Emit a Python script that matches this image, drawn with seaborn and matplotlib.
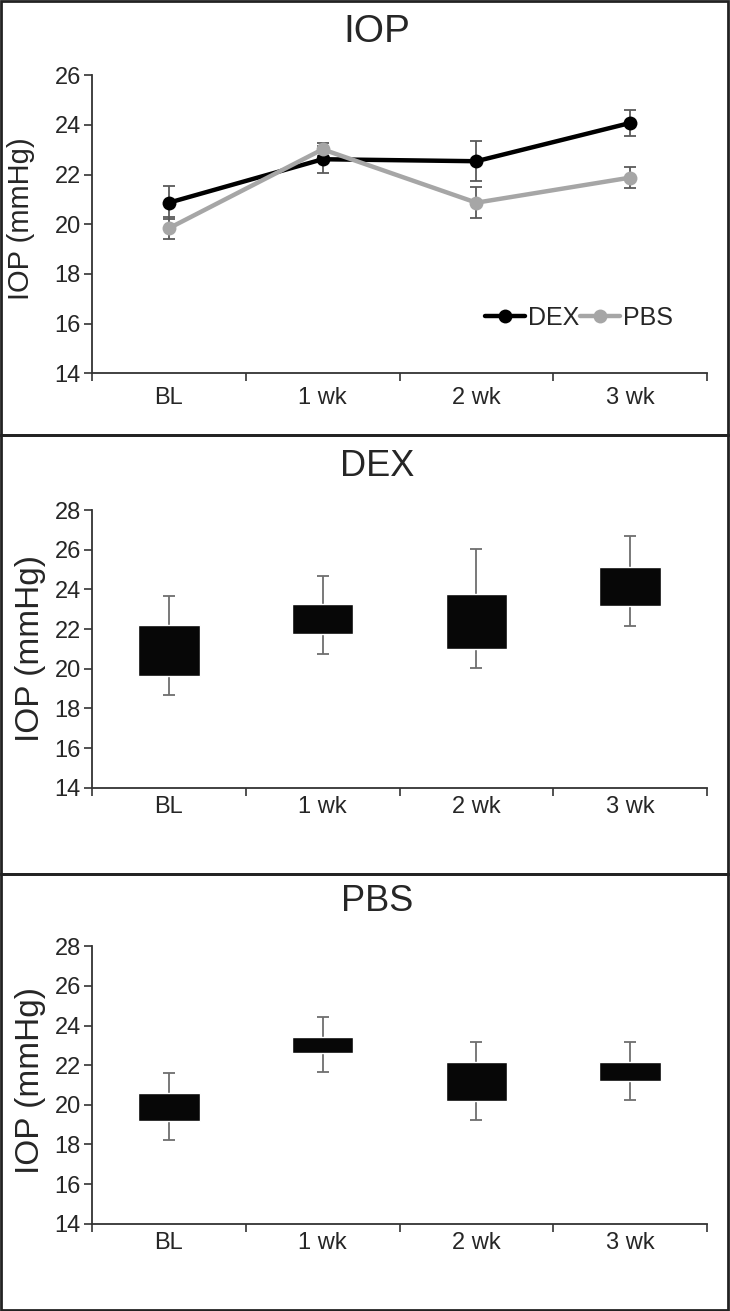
import numpy as np
import pandas as pd
import matplotlib
matplotlib.use("Agg")
import matplotlib.pyplot as plt
import seaborn as sns
from matplotlib.patches import Rectangle

weeks = ["BL", "1 wk", "2 wk", "3 wk"]

# top panel: mean +/- error
dex_mean = [20.87, 22.62, 22.54, 24.08]
dex_err = [0.67, 0.55, 0.80, 0.52]
pbs_mean = [19.84, 23.02, 20.87, 21.88]
pbs_err = [0.44, 0.25, 0.63, 0.43]

# floating boxes + whiskers
dex_box_low = [19.65, 21.75, 20.99, 23.16]
dex_box_high = [22.20, 23.28, 23.78, 25.11]
dex_whisk_low = [18.67, 20.76, 20.02, 22.17]
dex_whisk_high = [23.68, 24.69, 26.02, 26.69]

pbs_box_low = [19.20, 22.64, 20.21, 21.20]
pbs_box_high = [20.58, 23.43, 22.16, 22.16]
pbs_whisk_low = [18.22, 21.66, 19.23, 20.24]
pbs_whisk_high = [21.59, 24.42, 23.15, 23.15]

sns.set_style("ticks")
plt.rcParams['font.family'] = ['Liberation Sans', 'DejaVu Sans']

W, H = 730, 1311
fig = plt.figure(figsize=(W / 100, H / 100), dpi=100)
pos = np.arange(len(weeks))


def frac_axes(top_px, bottom_px, left_px=92, right_px=707):
    return fig.add_axes([left_px / W, 1 - bottom_px / H,
                         (right_px - left_px) / W, (bottom_px - top_px) / H])


def style_axis(ax, ymax, xpad, ylab_size, ylab_x, ylab_y):
    ax.set_xlim(-0.5, 3.5)
    ax.set_ylim(14, ymax)
    ax.set_yticks(range(14, ymax + 1, 2))
    ax.set_xticks(np.arange(-0.5, 4, 1))
    ax.set_xticklabels([])
    ax.set_xticks(pos, weeks, minor=True)
    ax.tick_params(axis='x', which='minor', length=0, pad=xpad, labelsize=17)
    ax.tick_params(axis='x', which='major', length=6, width=1.2, color='#333333')
    ax.tick_params(axis='y', length=6, width=1.2, color='#333333', labelsize=17, pad=2)
    sns.despine(ax=ax)
    for s in ['left', 'bottom']:
        ax.spines[s].set_color('#333333')
        ax.spines[s].set_linewidth(1.3)
    ax.set_xlabel("")
    ax.set_ylabel("IOP (mmHg)", fontsize=ylab_size)
    ax.yaxis.set_label_coords(ylab_x, ylab_y)


# ---- panel 1: line chart
ax1 = frac_axes(75.3, 373.3)
df = pd.DataFrame({"week": list(pos) * 2,
                   "IOP": dex_mean + pbs_mean,
                   "group": ["DEX"] * 4 + ["PBS"] * 4})
ax1.errorbar(pos, dex_mean, yerr=dex_err, fmt='none', ecolor='#5a5a5a',
             elinewidth=1.3, capsize=4, capthick=1.3, zorder=1)
ax1.errorbar(pos, pbs_mean, yerr=pbs_err, fmt='none', ecolor='#5a5a5a',
             elinewidth=1.3, capsize=4, capthick=1.3, zorder=1)
sns.lineplot(data=df, x="week", y="IOP", hue="group",
             palette={"DEX": "black", "PBS": "#a6a6a6"}, marker="o",
             markersize=10, markeredgewidth=0, linewidth=3.2, sort=False, ax=ax1)
style_axis(ax1, 26, 10, 21, -0.093, 0.518)
ax1.legend(loc='center', bbox_to_anchor=(0.792, 0.186), ncol=2, frameon=False,
           fontsize=18, handlelength=1.6, handletextpad=0.1, columnspacing=0.05,
           borderpad=0)


# ---- panels 2 and 3: floating boxes
def box_panel(ax, low, high, wlow, whigh):
    heights = [h - l for h, l in zip(high, low)]
    whisk = np.array([[m - a for m, a in zip(low, wlow)],
                      [b - m for m, b in zip(low, whigh)]])
    ax.errorbar(pos, low, yerr=whisk, fmt='none', ecolor='#6e6e6e',
                elinewidth=1.3, capsize=4, capthick=1.3, zorder=1)
    sns.barplot(x=weeks, y=heights, bottom=low, color='#070707', width=0.4,
                errorbar=None, saturation=1, ax=ax, zorder=2)


ax2 = frac_axes(510, 787.7)
box_panel(ax2, dex_box_low, dex_box_high, dex_whisk_low, dex_whisk_high)
style_axis(ax2, 28, 6, 24, -0.075, 0.5)

ax3 = frac_axes(946.3, 1223.7)
box_panel(ax3, pbs_box_low, pbs_box_high, pbs_whisk_low, pbs_whisk_high)
style_axis(ax3, 28, 6, 24, -0.075, 0.516)

# titles
fig.text(377 / W, 1 - 32 / H, "IOP", fontsize=28, ha='center', va='center')
fig.text(377 / W, 1 - 466.7 / H, "DEX", fontsize=26, ha='center', va='center')
fig.text(377 / W, 1 - 901.7 / H, "PBS", fontsize=26, ha='center', va='center')

# panel frames
for top, bot in [(1, 435), (435, 874), (874, 1310)]:
    fig.add_artist(Rectangle((1 / W, 1 - bot / H), 727 / W, (bot - top) / H,
                             transform=fig.transFigure, fill=False,
                             lw=2, ec='#222222'))

fig.savefig("out.png", dpi=100)
